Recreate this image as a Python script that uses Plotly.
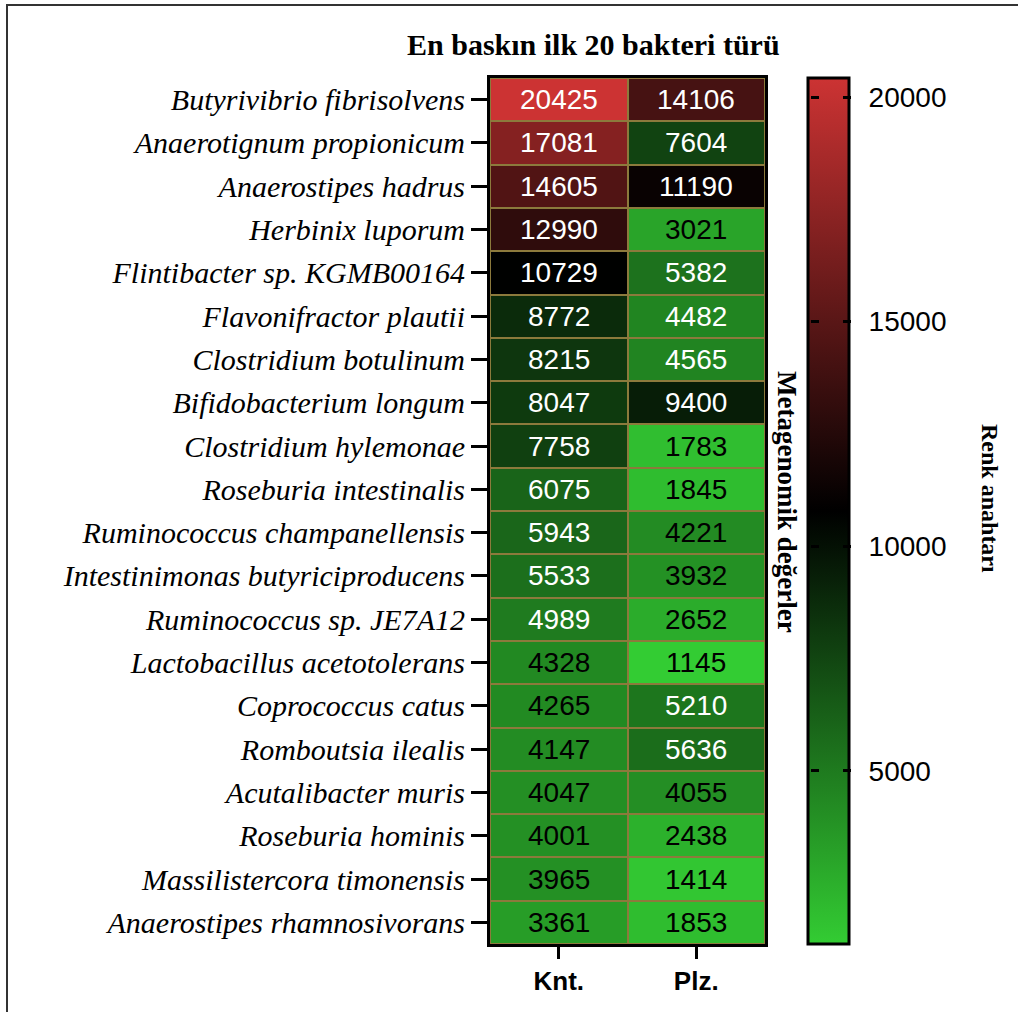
import plotly.graph_objects as go

# Top 20 bacterial species and their metagenomic counts
species = [
    "Butyrivibrio fibrisolvens",
    "Anaerotignum propionicum",
    "Anaerostipes hadrus",
    "Herbinix luporum",
    "Flintibacter sp. KGMB00164",
    "Flavonifractor plautii",
    "Clostridium botulinum",
    "Bifidobacterium longum",
    "Clostridium hylemonae",
    "Roseburia intestinalis",
    "Ruminococcus champanellensis",
    "Intestinimonas butyriciproducens",
    "Ruminococcus sp. JE7A12",
    "Lactobacillus acetotolerans",
    "Coprococcus catus",
    "Romboutsia ilealis",
    "Acutalibacter muris",
    "Roseburia hominis",
    "Massilistercora timonensis",
    "Anaerostipes rhamnosivorans",
]
groups = ["Knt.", "Plz."]
knt = [20425, 17081, 14605, 12990, 10729, 8772, 8215, 8047, 7758, 6075,
       5943, 5533, 4989, 4328, 4265, 4147, 4047, 4001, 3965, 3361]
plz = [14106, 7604, 11190, 3021, 5382, 4482, 4565, 9400, 1783, 1845,
       4221, 3932, 2652, 1145, 5210, 5636, 4055, 2438, 1414, 1853]
cbar_ticks = [5000, 10000, 15000, 20000]

z = [[a, b] for a, b in zip(knt, plz)]
zmin = min(knt + plz)
zmax = max(knt + plz)

W, H = 1018, 1012
L, R, T, B = 490, 253, 78, 68
pw, ph = W - L - R, H - T - B
CB_LEFT, CB_THICK = 808, 41


def px_x(x):
    return (x - L) / pw


def px_y(y):
    return 1 - (y - T) / ph


SERIF = "Liberation Serif, Times New Roman, serif"
SANS = "Arial, Liberation Sans, sans-serif"
CLEAR = [[0, "rgba(0,0,0,0)"], [1, "rgba(0,0,0,0)"]]

fig = go.Figure()
fig.add_trace(go.Heatmap(
    z=z, x=groups, y=species,
    zmin=zmin, zmax=zmax,
    colorscale=[[0, "#33cc33"], [0.5, "#000000"], [1, "#cc3333"]],
    xgap=2, ygap=2,
    hoverinfo="skip",
    colorbar=dict(
        x=px_x(CB_LEFT), xanchor="left", y=0.5, yanchor="middle",
        len=1, lenmode="fraction", thickness=CB_THICK,
        xpad=0, ypad=0,
        outlinewidth=3, outlinecolor="black",
        tickvals=cbar_ticks, tickformat="d",
        # outside ticks kept invisible so labels sit clear of the bar
        ticks="outside", ticklen=13, tickwidth=1, tickcolor="white",
        tickfont=dict(family=SANS, size=28, color="black"),
    ),
))

# Transparent overlays whose colour-bar ticks give the short inner marks
# on both edges of the colour key
for edge in (CB_LEFT + 2, CB_LEFT + CB_THICK - 7):
    fig.add_trace(go.Heatmap(
        z=z, x=groups, y=species,
        zmin=zmin, zmax=zmax,
        colorscale=CLEAR, hoverinfo="skip",
        colorbar=dict(
            x=px_x(edge), xanchor="left", y=0.5, yanchor="middle",
            len=1, lenmode="fraction", thickness=1,
            xpad=0, ypad=0, outlinewidth=0,
            tickvals=cbar_ticks, showticklabels=False,
            ticks="outside", ticklen=8, tickwidth=3, tickcolor="black",
        ),
    ))

# Cell value labels
for i, sp in enumerate(species):
    for j, g in enumerate(groups):
        v = z[i][j]
        fig.add_annotation(
            x=g, y=sp, text=str(v), showarrow=False,
            font=dict(family=SANS, size=28,
                      color="white" if v > 4400 else "black"),
        )

# Title and axis captions
fig.add_annotation(
    x=px_x(593), y=px_y(45), xref="paper", yref="paper",
    xanchor="center", yanchor="middle",
    text="<b>En baskın ilk 20 bakteri türü</b>", showarrow=False,
    font=dict(family=SERIF, size=30, color="black"),
)
fig.add_annotation(
    x=px_x(787), y=px_y(502), xref="paper", yref="paper",
    xanchor="center", yanchor="middle",
    text="<b>Metagenomik değerler</b>", showarrow=False, textangle=90,
    font=dict(family=SERIF, size=27, color="black"),
)
fig.add_annotation(
    x=px_x(990), y=px_y(498), xref="paper", yref="paper",
    xanchor="center", yanchor="middle",
    text="<b>Renk anahtarı</b>", showarrow=False, textangle=90,
    font=dict(family=SERIF, size=24, color="black"),
)

# Outer frame
fig.add_shape(
    type="rect", xref="paper", yref="paper",
    x0=px_x(7), x1=px_x(1030), y0=px_y(1030), y1=px_y(5),
    line=dict(color="#333333", width=2), fillcolor="rgba(0,0,0,0)",
)

fig.update_layout(
    width=W, height=H,
    margin=dict(l=L, r=R, t=T, b=B),
    paper_bgcolor="white",
    plot_bgcolor="#8c7a3c",
    showlegend=False,
)
fig.update_xaxes(
    side="bottom", showgrid=False, zeroline=False,
    showline=True, mirror=True, linewidth=3, linecolor="black",
    ticks="outside", ticklen=12, tickwidth=3, tickcolor="black",
    tickfont=dict(family=SANS, size=26, color="black", weight="bold"),
)
fig.update_yaxes(
    autorange="reversed", showgrid=False, zeroline=False,
    showline=True, mirror=True, linewidth=3, linecolor="black",
    ticks="outside", ticklen=16, tickwidth=3, tickcolor="black",
    tickfont=dict(family=SERIF, size=30, color="black", style="italic"),
)

fig.write_html("out.html")
